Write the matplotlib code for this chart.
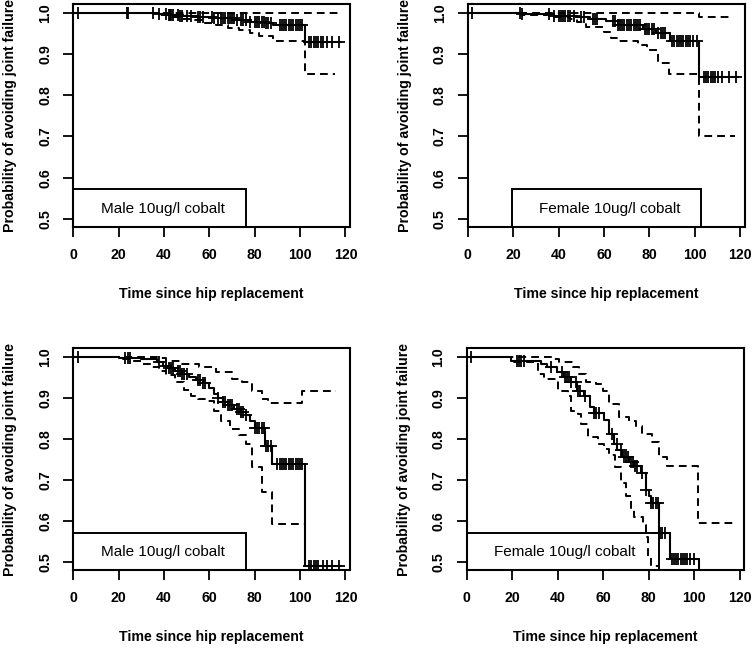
import numpy as np
import matplotlib
matplotlib.use('Agg')
import matplotlib.pyplot as plt
from matplotlib.patches import Rectangle

plt.rcParams['font.family'] = ['Liberation Sans', 'DejaVu Sans']

# ---- top left: male (upper panel)
m1_est_t = [0, 38, 42, 47, 55, 62, 72, 78, 85, 88, 102]
m1_est_s = [1.0, 0.997, 0.995, 0.993, 0.99, 0.987, 0.983, 0.979, 0.975, 0.97, 0.929]
m1_up_t = [0]
m1_up_s = [1.0]
m1_lo_t = [0, 38, 42, 47, 52, 57, 63, 68, 73, 78, 82, 88, 102]
m1_lo_s = [1.0, 0.995, 0.99, 0.986, 0.982, 0.976, 0.97, 0.963, 0.958, 0.952, 0.945, 0.931, 0.852]
m1_cens = [2, 23.5, 24, 35, 38, 41, 42, 42.5, 43, 44, 46, 47, 48, 50, 52, 55, 56, 57,
           61, 62, 64, 65, 66, 67, 68, 69, 70, 71, 72, 74, 75, 76, 78, 80, 81, 82, 83,
           84, 85, 86, 87, 91, 92, 93, 94, 95, 96, 97, 98, 99, 100, 101, 104, 105,
           106, 107, 108, 109, 110, 112, 114, 117]

# ---- top right: female (upper panel)
f1_est_t = [0, 24, 38, 48, 54, 61, 66, 77, 83, 89, 102]
f1_est_s = [1.0, 0.997, 0.993, 0.99, 0.986, 0.98, 0.972, 0.962, 0.952, 0.931, 0.845]
f1_up_t = [0, 102]
f1_up_s = [1.0, 0.99]
f1_lo_t = [0, 24, 38, 45, 48, 52, 60, 63, 66, 75, 79, 84, 88.6, 102]
f1_lo_s = [1.0, 0.995, 0.99, 0.985, 0.978, 0.967, 0.955, 0.94, 0.931, 0.922, 0.91, 0.878, 0.852, 0.70]
f1_cens = [2, 23, 24, 36, 38, 40, 41, 42, 43, 44, 45, 47, 50, 51, 55, 56, 57, 64, 65,
           66, 67, 68, 69, 70, 71, 72, 73, 74, 75, 76, 78, 79, 80, 81, 82, 84, 85, 86,
           87, 90, 91, 92, 93, 94, 95, 96, 97, 98, 99, 101, 104, 105, 106, 107, 108,
           109, 110, 112, 115, 118]

# ---- bottom left: male (lower panel)
m2_est_t = [0, 20, 30, 37, 39.5, 42, 45, 48, 51, 54, 57, 60, 62, 64, 66, 68, 71, 74,
            76, 78, 80, 84.6, 87.8, 102]
m2_est_s = [1.0, 0.997, 0.995, 0.987, 0.979, 0.972, 0.966, 0.959, 0.952, 0.945, 0.937,
            0.925, 0.91, 0.9, 0.89, 0.882, 0.873, 0.866, 0.858, 0.843, 0.826, 0.783,
            0.74, 0.49]
m2_up_t = [0, 38, 41, 48, 55.6, 63, 70, 74.6, 79, 83.4, 86, 101]
m2_up_s = [1.0, 0.997, 0.991, 0.983, 0.976, 0.963, 0.946, 0.938, 0.918, 0.898, 0.889, 0.917]
m2_lo_t = [0, 20, 25, 30, 34, 38, 41, 45, 49, 52, 55, 59, 62, 65, 69, 73, 76, 79, 83.4, 87.8]
m2_lo_s = [1.0, 0.995, 0.99, 0.983, 0.976, 0.965, 0.955, 0.94, 0.92, 0.905, 0.898, 0.893,
           0.868, 0.843, 0.825, 0.81, 0.788, 0.732, 0.672, 0.593]
m2_cens = [2, 23, 24, 25, 38, 41, 42, 43, 44, 46, 47, 48, 49, 50, 55, 56, 57, 58, 64,
           66, 67, 68, 69, 70, 72, 73, 74, 75, 76, 80, 81, 82, 83, 84, 85, 86, 87, 90,
           91, 92, 93, 94, 95, 96, 97, 98, 99, 100, 101, 104, 105, 106, 107, 108, 110,
           112, 114, 117]

# ---- bottom right: female (lower panel)
f2_est_t = [0, 19.3, 32.5, 35.5, 39.8, 42.8, 45.7, 48.6, 51.5, 54.4, 56, 60.3, 62.5,
            64.7, 66.2, 68.4, 71.3, 73.5, 76.4, 78.6, 80, 80.8, 84.3, 89.2, 102.3]
f2_est_s = [1.0, 0.99, 0.983, 0.975, 0.963, 0.952, 0.94, 0.918, 0.906, 0.878, 0.863,
            0.846, 0.813, 0.789, 0.774, 0.757, 0.743, 0.733, 0.717, 0.676, 0.66, 0.643,
            0.572, 0.507, 0.3]
f2_up_t = [0, 37.8, 40.7, 46.6, 49.5, 52.4, 56.8, 59.7, 62.6, 67, 71.4, 74.3, 77.2,
           81.6, 84.5, 88, 101.7]
f2_up_s = [1.0, 0.995, 0.987, 0.975, 0.958, 0.938, 0.934, 0.918, 0.885, 0.853, 0.845,
           0.832, 0.812, 0.792, 0.757, 0.733, 0.594]
f2_lo_t = [0, 19.6, 31.3, 34, 40.1, 44.5, 46, 48.9, 50.4, 53.3, 57.7, 60.5, 62.5, 65,
           68, 70, 72.3, 73.7, 77.4, 78.9, 79.6, 81]
f2_lo_s = [1.0, 0.987, 0.958, 0.946, 0.918, 0.906, 0.869, 0.861, 0.837, 0.804, 0.788,
           0.775, 0.76, 0.732, 0.692, 0.66, 0.631, 0.611, 0.591, 0.56, 0.511, 0.49]
f2_cens = [2, 22, 23, 24, 25, 37, 42, 43, 44, 45, 46, 48, 49, 50, 52, 56, 57, 58, 64,
           66, 68, 69, 70, 71, 72, 73, 74, 75, 77, 79, 81, 82, 83, 84, 85, 86, 87, 90,
           91, 92, 93, 94, 95, 96, 97, 98, 100]

panels = [
    # est_t, est_s, est_end, up_t, up_s, up_end, lo_t, lo_s, lo_end, cens, label, box x0, box x1
    (m1_est_t, m1_est_s, 118, m1_up_t, m1_up_s, 118, m1_lo_t, m1_lo_s, 115.5, m1_cens,
     'Male 10ug/l cobalt', 0, 76),
    (f1_est_t, f1_est_s, 119, f1_up_t, f1_up_s, 117, f1_lo_t, f1_lo_s, 117.5, f1_cens,
     'Female 10ug/l cobalt', 19.5, 102.7),
    (m2_est_t, m2_est_s, 118, m2_up_t, m2_up_s, 116, m2_lo_t, m2_lo_s, 102, m2_cens,
     'Male 10ug/l cobalt', 0, 76),
    (f2_est_t, f2_est_s, 102.3, f2_up_t, f2_up_s, 118.4, f2_lo_t, f2_lo_s, 84.3, f2_cens,
     'Female 10ug/l cobalt', 0, 84.5),
]

# axes positions in figure fraction (left, bottom, width, height)
positions = [
    (0.0975, 0.6497, 0.3679, 0.3441),
    (0.6220, 0.6497, 0.3684, 0.3441),
    (0.0975, 0.1200, 0.3679, 0.3430),
    (0.6206, 0.1200, 0.3692, 0.3430),
]

fig = plt.figure(figsize=(7.52, 6.48), dpi=100)
dash = (0, (4, 2.6))

for pos, p in zip(positions, panels):
    est_t, est_s, est_end, up_t, up_s, up_end, lo_t, lo_s, lo_end, cens, label, bx0, bx1 = p
    ax = fig.add_axes(pos)
    ax.step(est_t + [est_end], est_s + [est_s[-1]], where='post', color='black', lw=1.5)
    ax.step(up_t + [up_end], up_s + [up_s[-1]], where='post', color='black', lw=1.4,
            linestyle=dash)
    ax.step(lo_t + [lo_end], lo_s + [lo_s[-1]], where='post', color='black', lw=1.4,
            linestyle=dash)
    # censoring marks sit on the estimate
    idx = np.searchsorted(est_t, cens, side='right') - 1
    cy = np.array(est_s)[idx]
    ax.plot(cens, cy, linestyle='none', marker='+', color='black', markersize=8,
            markeredgewidth=1.3)

    ax.add_patch(Rectangle((bx0, 0.48), bx1 - bx0, 0.572 - 0.48, fill=False,
                           edgecolor='black', lw=1.4, clip_on=False))
    ax.text(bx0 + 12, 0.524, label, fontsize=11, va='center', ha='left')

    ax.set_xlim(0, 122)
    ax.set_ylim(0.48, 1.022)
    ax.set_xticks([0, 20, 40, 60, 80, 100, 120])
    ax.set_yticks([0.5, 0.6, 0.7, 0.8, 0.9, 1.0])
    ax.set_yticklabels(['0.5', '0.6', '0.7', '0.8', '0.9', '1.0'])
    ax.tick_params(length=7.2, width=1.3, pad=8, labelsize=10.2)
    for lab in ax.get_xticklabels() + ax.get_yticklabels():
        lab.set_fontweight('bold')
    for lab in ax.get_yticklabels():
        lab.set_rotation(90)
        lab.set_va('center')
    for sp in ax.spines.values():
        sp.set_linewidth(1.5)
    ax.set_xlabel('Time since hip replacement', fontsize=10.2, fontweight='bold',
                  labelpad=18)
    ax.set_ylabel('Probability of avoiding joint failure', fontsize=10.2,
                  fontweight='bold', labelpad=15)

fig.savefig('out.png', dpi=100)
